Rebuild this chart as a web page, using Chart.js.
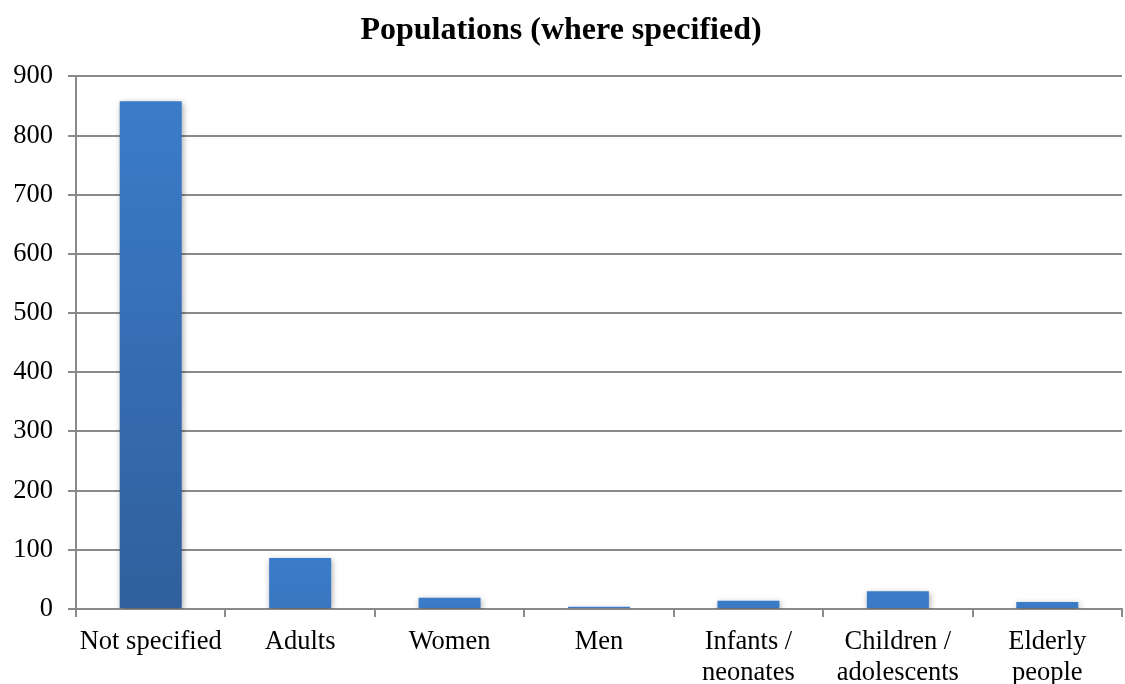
<!DOCTYPE html>
<html>
<head>
<meta charset="utf-8">
<script src="https://cdn.jsdelivr.net/npm/chart.js@4.4.0/dist/chart.umd.min.js"></script>
<style>
  html, body { margin: 0; padding: 0; background: #fff; }
</style>
</head>
<body>
<canvas id="myChart" width="1125" height="684"></canvas>
<script>
var categories = [
  "Not specified", ["Adults"], ["Women"], ["Men"],
  ["Infants /", "neonates"], ["Children /", "adolescents"], ["Elderly", "people"]
];
var counts = [858, 86, 19, 4, 14, 30, 12];
var yTicks = [0, 100, 200, 300, 400, 500, 600, 700, 800, 900];

var gridGray = "#8a8a8a";

function barGradient(c) {
  var chart = c.chart;
  var y = chart.scales.y;
  if (!y || !c.parsed) return "#3A7BC8";
  var top = y.getPixelForValue(c.parsed.y);
  var base = y.getPixelForValue(0);
  if (!isFinite(top) || !isFinite(base) || base - top < 1) return "#3A7BC8";
  // bottom colour darkens with bar height, like the original
  var frac = (base - top) / (base - y.top);
  var g = chart.ctx.createLinearGradient(0, top, 0, base);
  g.addColorStop(0, "#3B7CCA");
  var r = Math.round(0x3A - frac * 11), gg = Math.round(0x79 - frac * 27), b = Math.round(0xC4 - frac * 42);
  g.addColorStop(1, "rgb(" + r + "," + gg + "," + b + ")");
  return g;
}

var shadowPlugin = {
  id: "barShadow",
  beforeDatasetsDraw: function (chart) {
    var ctx = chart.ctx;
    ctx.save();
    ctx.shadowColor = "rgba(0,0,0,0.35)";
    ctx.shadowBlur = 6;
    ctx.shadowOffsetX = 1;
    ctx.shadowOffsetY = 2;
  },
  afterDatasetsDraw: function (chart) {
    chart.ctx.restore();
  }
};

var ctx = document.getElementById("myChart");

new Chart(ctx, {
  type: "bar",
  data: {
    labels: categories,
    datasets: [
      {
        label: "Populations",
        data: counts,
        backgroundColor: barGradient,
        borderWidth: 0,
        categoryPercentage: 1,
        barPercentage: 0.415,
      },
    ],
  },
  plugins: [shadowPlugin],
  options: {
    responsive: false,
    animation: false,
    devicePixelRatio: 1,
    layout: { padding: { left: 0, right: 3, top: 0, bottom: 0 } },
    plugins: {
      legend: { display: false },
      tooltip: { enabled: false },
      title: {
        display: true,
        text: "Populations (where specified)",
        color: "#000",
        font: { family: "Liberation Serif", size: 32, weight: "bold", lineHeight: 1.2 },
        padding: { top: 12, bottom: 26 },
      },
    },
    scales: {
      x: {
        offset: true,
        grid: {
          offset: true,
          drawOnChartArea: false,
          color: gridGray,
          lineWidth: 2,
          tickLength: 8,
        },
        border: { color: gridGray, width: 2 },
        ticks: {
          color: "#000",
          font: { family: "Liberation Serif", size: 26.5, lineHeight: 1.17 },
          maxRotation: 0,
          autoSkip: false,
          padding: 10,
        },
        afterFit: function (scale) { scale.height = 75; },
      },
      y: {
        min: 0,
        max: 900,
        afterBuildTicks: function (axis) {
          axis.ticks = yTicks.map(function (v) { return { value: v }; });
        },
        grid: {
          color: gridGray,
          lineWidth: 2,
          tickLength: 8,
        },
        border: { color: gridGray, width: 2 },
        ticks: {
          color: "#000",
          font: { family: "Liberation Serif", size: 26.5 },
          padding: 15,
        },
        afterFit: function (scale) { scale.width = 76; },
      },
    },
  },
});
</script>
</body>
</html>
